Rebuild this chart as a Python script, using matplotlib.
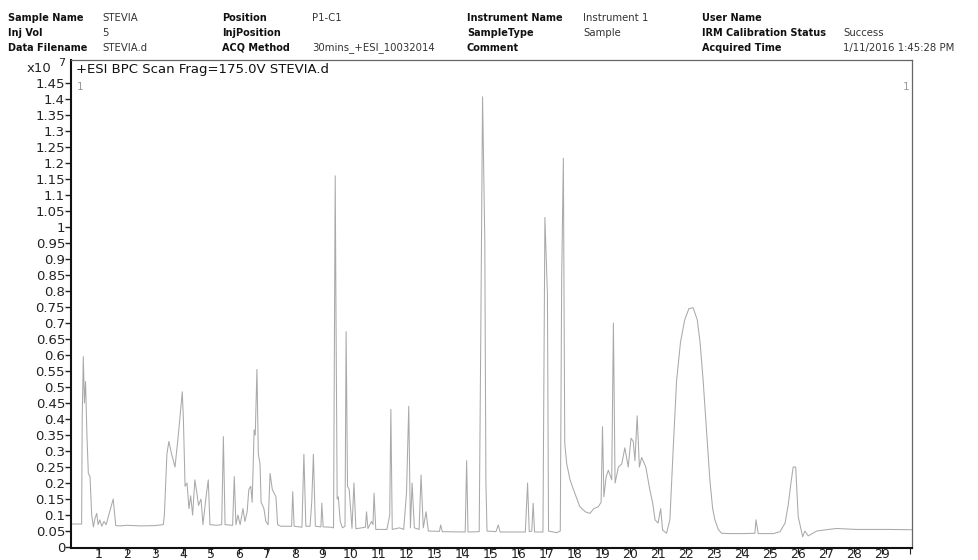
import matplotlib
matplotlib.use("Agg")
import matplotlib.pyplot as plt
from matplotlib.ticker import FixedLocator, FuncFormatter

# ---- data: retention time (min) and BPC intensity (x1e7) ----
rt_min = [
    0.00, 0.38, 0.40, 0.44, 0.48, 0.52, 0.57, 0.62, 0.68, 0.74, 0.80, 0.86, 0.92, 0.97, 1.03, 1.10,
    1.18, 1.26, 1.35, 1.43, 1.51, 1.60, 1.75, 2.00, 2.50, 3.00, 3.30,
    3.34, 3.43, 3.50, 3.60, 3.72, 3.85, 3.98, 4.02, 4.08, 4.15, 4.22, 4.28, 4.35, 4.43, 4.50,
    4.56, 4.65, 4.72, 4.83, 4.91, 4.97, 5.20, 5.39, 5.45, 5.51, 5.78, 5.84, 5.90, 5.97, 6.05,
    6.15, 6.22, 6.30, 6.36, 6.43, 6.48, 6.55, 6.59, 6.65, 6.70, 6.76, 6.80, 6.90, 6.97, 7.05,
    7.12, 7.20, 7.33, 7.39, 7.50, 7.89, 7.93, 7.98, 8.26, 8.33, 8.40, 8.55, 8.61, 8.67, 8.74,
    8.94, 8.97, 9.02, 9.30, 9.39, 9.42, 9.45, 9.48, 9.52, 9.56, 9.63, 9.71, 9.80, 9.84, 9.89,
    9.95, 10.05, 10.12, 10.19, 10.40, 10.53, 10.57, 10.62, 10.75, 10.80, 10.84, 10.90, 11.30,
    11.40, 11.44, 11.49, 11.75, 11.90, 12.00, 12.08, 12.14, 12.20, 12.28, 12.45, 12.52, 12.60,
    12.70, 12.78, 13.18, 13.22, 13.28, 14.10, 14.15, 14.20, 14.60, 14.66, 14.72, 14.80, 14.84,
    14.88, 15.20, 15.28, 15.35, 16.25, 16.33, 16.39, 16.48, 16.53, 16.58, 16.88, 16.92, 16.95,
    17.04, 17.08, 17.20, 17.37, 17.50, 17.55, 17.61, 17.66, 17.73, 17.85, 17.97, 18.20, 18.40,
    18.56, 18.70, 18.86, 18.96, 19.01, 19.06, 19.14, 19.22, 19.34, 19.40, 19.46, 19.58, 19.70,
    19.81, 19.93, 20.03, 20.11, 20.17, 20.25, 20.33, 20.41, 20.56, 20.70, 20.80, 20.89, 21.00,
    21.09, 21.16, 21.30, 21.42, 21.54, 21.66, 21.80, 21.95, 22.10, 22.25, 22.40, 22.50, 22.61,
    22.73, 22.85, 22.95, 23.03, 23.15, 23.27, 23.60, 24.05, 24.46, 24.50, 24.58, 25.12, 25.36,
    25.54, 25.65, 25.75, 25.83, 25.92, 26.01, 26.10, 26.17, 26.25, 26.37, 26.67, 27.00, 27.38,
    28.10, 29.30, 30.08,
]
intensity_e7 = [
    0.072, 0.072, 0.40, 0.595, 0.45, 0.517, 0.35, 0.23, 0.22, 0.10, 0.063, 0.09, 0.105, 0.07, 0.085, 0.065,
    0.08, 0.07, 0.10, 0.125, 0.15, 0.067, 0.066, 0.068, 0.066, 0.067, 0.07,
    0.10, 0.29, 0.33, 0.29, 0.25, 0.36, 0.485, 0.40, 0.19, 0.20, 0.12, 0.16, 0.10, 0.21, 0.17,
    0.13, 0.15, 0.07, 0.157, 0.21, 0.07, 0.068, 0.07, 0.345, 0.07, 0.068, 0.22, 0.07, 0.10, 0.07,
    0.12, 0.08, 0.11, 0.18, 0.19, 0.14, 0.366, 0.35, 0.555, 0.29, 0.26, 0.14, 0.12, 0.08, 0.07,
    0.23, 0.18, 0.157, 0.07, 0.065, 0.065, 0.173, 0.065, 0.062, 0.29, 0.065, 0.065, 0.14, 0.29, 0.065,
    0.063, 0.137, 0.063, 0.062, 0.06, 0.60, 1.16, 0.70, 0.15, 0.157, 0.08, 0.06, 0.065, 0.673, 0.19,
    0.18, 0.058, 0.20, 0.057, 0.06, 0.062, 0.11, 0.058, 0.08, 0.07, 0.168, 0.055, 0.055,
    0.10, 0.43, 0.055, 0.06, 0.055, 0.17, 0.44, 0.06, 0.20, 0.06, 0.055, 0.225, 0.06,
    0.11, 0.05, 0.049, 0.069, 0.048, 0.047, 0.27, 0.047, 0.048, 0.70, 1.407, 0.96, 0.20,
    0.05, 0.048, 0.069, 0.047, 0.047, 0.20, 0.048, 0.05, 0.137, 0.047, 0.047, 0.60, 1.03,
    0.79, 0.05, 0.048, 0.045, 0.05, 0.84, 1.215, 0.325, 0.26, 0.21, 0.18, 0.126, 0.11,
    0.105, 0.12, 0.126, 0.14, 0.376, 0.157, 0.22, 0.24, 0.21, 0.70, 0.20, 0.25, 0.26,
    0.31, 0.25, 0.34, 0.33, 0.27, 0.41, 0.25, 0.28, 0.25, 0.18, 0.14, 0.085, 0.075,
    0.12, 0.053, 0.043, 0.085, 0.31, 0.52, 0.64, 0.71, 0.745, 0.748, 0.71, 0.64, 0.52,
    0.365, 0.21, 0.12, 0.085, 0.055, 0.043, 0.042, 0.042, 0.043, 0.085, 0.042, 0.042, 0.048,
    0.075, 0.13, 0.20, 0.25, 0.25, 0.095, 0.06, 0.032, 0.05, 0.035, 0.05, 0.054, 0.058,
    0.055, 0.055, 0.054,
]

y_ticks = [round(0.05 * i, 2) for i in range(30)]
x_ticks = list(range(1, 31))
x_tick_labels = [str(i) for i in range(1, 30)] + [""]

header_labels = [
    ("Sample Name", "STEVIA", "Position", "P1-C1", "Instrument Name", "Instrument 1", "User Name", ""),
    ("Inj Vol", "5", "InjPosition", "", "SampleType", "Sample", "IRM Calibration Status", "Success"),
    ("Data Filename", "STEVIA.d", "ACQ Method", "30mins_+ESI_10032014", "Comment", "", "Acquired Time", "1/11/2016 1:45:28 PM"),
]
trace_title = "+ESI BPC Scan Frag=175.0V STEVIA.d"

# ---- figure ----
W, H = 979, 560
fig = plt.figure(figsize=(W / 100, H / 100), dpi=100)
fig.patch.set_facecolor("white")

def fx(px):
    return px / W

def fy(py):
    return 1 - py / H

ax_l, ax_r, ax_t, ax_b = 71, 912, 60, 548
ax = fig.add_axes([fx(ax_l), fy(ax_b), (ax_r - ax_l) / W, (ax_b - ax_t) / H])
ax.plot(rt_min, intensity_e7, color="#a9a9a9", lw=0.75)
ax.set_xlim(0, 30.08)
ax.set_ylim(-0.003, 1.522)

tick_font = "DejaVu Sans"
ax.yaxis.set_major_locator(FixedLocator(y_ticks))
ax.yaxis.set_major_formatter(FuncFormatter(lambda v, p: f"{v:.2f}".rstrip("0").rstrip(".")))
ax.xaxis.set_major_locator(FixedLocator(x_ticks))
ax.set_xticklabels(x_tick_labels)
ax.tick_params(axis="y", direction="out", length=4, width=1.0, pad=0.3, labelsize=9.5,
               colors="#222222")
ax.tick_params(axis="x", direction="out", length=4, width=0.8, pad=-4, labelsize=9,
               colors="#222222")
for lab in ax.get_xticklabels() + ax.get_yticklabels():
    lab.set_fontfamily(tick_font)

for side in ("left", "bottom"):
    ax.spines[side].set_color("#111111")
    ax.spines[side].set_linewidth(1.5)
for side in ("top", "right"):
    ax.spines[side].set_color("#666666")
    ax.spines[side].set_linewidth(0.9)

# text inside the trace box
fig.text(fx(76), fy(70), trace_title, fontsize=9.5, family=tick_font, color="#111111", va="center")
fig.text(fx(77), fy(87), "1", fontsize=7.5, family=tick_font, color="#999999", va="center")
fig.text(fx(903), fy(87), "1", fontsize=7.5, family=tick_font, color="#999999", va="center")
fig.text(fx(27), fy(68), "x10", fontsize=9.5, family=tick_font, color="#222222", va="center")
fig.text(fx(58), fy(63), "7", fontsize=8, family=tick_font, color="#222222", va="center")

# header block
col_x = [8, 102, 222, 312, 467, 583, 702, 843]
row_y = [18, 33, 48]
for r, row in enumerate(header_labels):
    for c, txt in enumerate(row):
        if not txt:
            continue
        bold = c % 2 == 0
        fig.text(fx(col_x[c]), fy(row_y[r]), txt, fontsize=7 if bold else 7.3,
                 family="DejaVu Sans", fontweight="bold" if bold else "normal",
                 color="#111111" if bold else "#333333", va="center")

fig.savefig("out.png", dpi=100, facecolor="white")
